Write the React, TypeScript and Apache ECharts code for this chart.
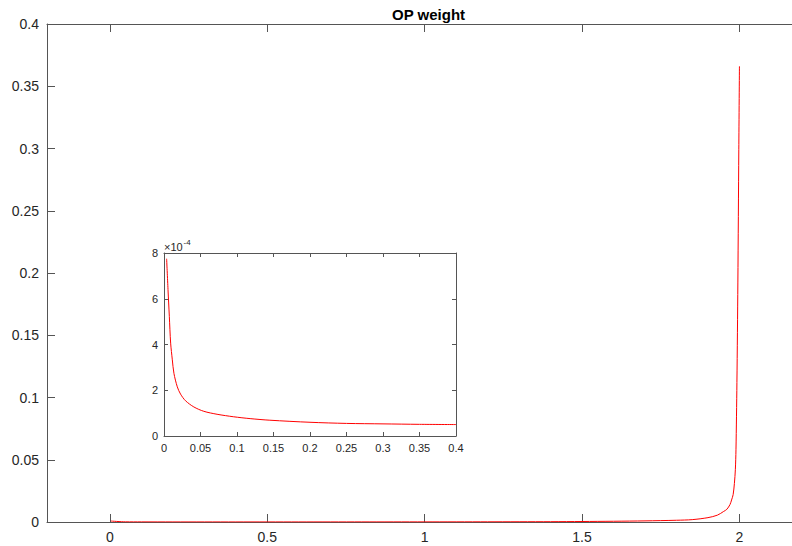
import React, { useEffect, useRef } from "react";
import * as echarts from "echarts";

// Main curve (OP weight vs x)
const mainX = [0.003, 0.05, 0.1, 0.2, 0.4, 0.6, 0.8, 1.0, 1.2, 1.4, 1.5, 1.6, 1.7, 1.8, 1.85, 1.9, 1.93, 1.95, 1.96, 1.97, 1.975, 1.98, 1.984, 1.987, 1.989, 1.992, 1.995, 1.998, 2.0];
const mainY = [0.00077, 0.00013, 0.00009, 0.00006, 0.00005, 0.00006, 0.00008, 0.0001, 0.00015, 0.00025, 0.0004, 0.0006, 0.0009, 0.0014, 0.0019, 0.0035, 0.0055, 0.0085, 0.0102, 0.014, 0.0177, 0.022, 0.031, 0.042, 0.058, 0.112, 0.192, 0.299, 0.366];

// Inset: zoom on x in [0, 0.4], y in units of 1e-4
const insetX = [0.0036, 0.0055, 0.0073, 0.0091, 0.0114, 0.0136, 0.0182, 0.0227, 0.0295, 0.0409, 0.0545, 0.0727, 0.0955, 0.118, 0.145, 0.2, 0.25, 0.3, 0.35, 0.4];
const insetY = [7.75, 6.4, 5.23, 4.06, 3.33, 2.74, 2.15, 1.83, 1.54, 1.27, 1.08, 0.95, 0.84, 0.76, 0.69, 0.6, 0.55, 0.53, 0.51, 0.5];

const mainXTicks = [0, 0.5, 1, 1.5, 2];
const titleText = "OP weight";
const exponentBase = "×10";
const exponentPower = "-4";

const AXIS_COLOR = "#555555";
const LABEL_COLOR = "#262626";
const FONT = "Liberation Sans, Arial, Helvetica, sans-serif";

export default function App() {
  const ref = useRef<HTMLDivElement>(null);
  useEffect(() => {
    if (!ref.current) return;
    const chart = echarts.init(ref.current, undefined, { renderer: "svg" });
    const axisLine = { show: true, onZero: false, lineStyle: { color: AXIS_COLOR, width: 1 } };
    const option: any = {
      animation: false,
      backgroundColor: "#ffffff",
      textStyle: { fontFamily: FONT },
      title: {
        text: titleText,
        left: 387,
        top: 2,
        textStyle: { fontSize: 15, fontWeight: "bold", color: "#000", fontFamily: FONT },
      },
      grid: [
        { left: 47, top: 24, width: 745, height: 498, show: false },
        { left: 164, top: 253, width: 292, height: 183, show: true, backgroundColor: "#ffffff", borderWidth: 0 },
      ],
      xAxis: [
        {
          type: "value", gridIndex: 0, position: "bottom", min: -0.2, max: 2.167,
          axisLine,
          axisTick: { show: true, inside: true, length: 8, customValues: mainXTicks, lineStyle: { color: AXIS_COLOR } },
          axisLabel: { show: true, customValues: mainXTicks, margin: 8, fontSize: 14, color: LABEL_COLOR, fontFamily: FONT },
          splitLine: { show: false },
        },
        {
          type: "value", gridIndex: 0, position: "top", min: -0.2, max: 2.167,
          axisLine,
          axisTick: { show: true, inside: true, length: 8, customValues: mainXTicks, lineStyle: { color: AXIS_COLOR } },
          axisLabel: { show: false },
          splitLine: { show: false },
        },
        {
          type: "value", gridIndex: 1, position: "bottom", min: 0, max: 0.4, interval: 0.05,
          axisLine,
          axisTick: { show: true, inside: true, length: 4, lineStyle: { color: AXIS_COLOR } },
          axisLabel: { show: true, margin: 6, fontSize: 11, color: LABEL_COLOR, fontFamily: FONT },
          splitLine: { show: false },
        },
        {
          type: "value", gridIndex: 1, position: "top", min: 0, max: 0.4, interval: 0.05,
          axisLine,
          axisTick: { show: true, inside: true, length: 4, lineStyle: { color: AXIS_COLOR } },
          axisLabel: { show: false },
          splitLine: { show: false },
        },
      ],
      yAxis: [
        {
          type: "value", gridIndex: 0, position: "left", min: 0, max: 0.4, interval: 0.05,
          axisLine,
          axisTick: { show: true, inside: true, length: 8, lineStyle: { color: AXIS_COLOR } },
          axisLabel: { show: true, margin: 8, fontSize: 14, color: LABEL_COLOR, fontFamily: FONT },
          splitLine: { show: false },
        },
        {
          type: "value", gridIndex: 1, position: "left", min: 0, max: 8, interval: 2,
          axisLine,
          axisTick: { show: true, inside: true, length: 4, lineStyle: { color: AXIS_COLOR } },
          axisLabel: { show: true, margin: 6, fontSize: 11, color: LABEL_COLOR, fontFamily: FONT },
          splitLine: { show: false },
        },
        {
          type: "value", gridIndex: 1, position: "right", min: 0, max: 8, interval: 2,
          axisLine,
          axisTick: { show: true, inside: true, length: 4, lineStyle: { color: AXIS_COLOR } },
          axisLabel: { show: false },
          splitLine: { show: false },
        },
      ],
      series: [
        {
          type: "line", xAxisIndex: 0, yAxisIndex: 0,
          data: mainX.map((x, i) => [x, mainY[i]]),
          showSymbol: false, symbol: "none", smooth: 0.3,
          lineStyle: { color: "#ff0000", width: 1 },
          z: 1,
        },
        {
          type: "line", xAxisIndex: 2, yAxisIndex: 1,
          data: insetX.map((x, i) => [x, insetY[i]]),
          showSymbol: false, symbol: "none", smooth: 0.3,
          lineStyle: { color: "#ff0000", width: 1 },
          z: 3,
        },
      ],
      graphic: [
        {
          type: "text", left: 164, top: 241, z: 10,
          style: { text: exponentBase, fontSize: 11, fill: LABEL_COLOR, fontFamily: FONT },
        },
        {
          type: "text", left: 183.5, top: 238, z: 10,
          style: { text: exponentPower, fontSize: 8, fill: LABEL_COLOR, fontFamily: FONT },
        },
      ],
    };
    chart.setOption(option);
    return () => chart.dispose();
  }, []);
  return (
    <div
      ref={ref}
      style={{ position: "absolute", left: 0, top: 0, width: 792, height: 546 }}
    />
  );
}
